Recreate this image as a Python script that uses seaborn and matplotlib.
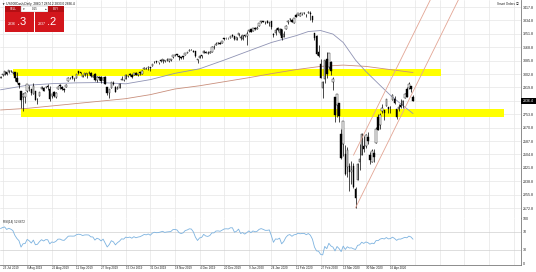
import numpy as np
import pandas as pd
import matplotlib
matplotlib.use("Agg")
import matplotlib.pyplot as plt
from matplotlib.patches import Rectangle
import seaborn as sns

# ---------------- data (US500Cash, daily) ----------------
holidays = ["2019-12-25", "2020-01-01", "2020-04-10"]
dates = pd.bdate_range("2019-07-22", "2020-05-01").drop(pd.to_datetime(holidays))

opens = [
    2981, 2994, 2999, 3016, 3013, 3024, 3007, 3016,
    2980, 2944, 2898, 2861, 2858, 2897, 2919, 2908, 2880, 2895, 2846, 2865, 2913, 2919, 2922, 2930, 2911, 2866, 2893, 2861, 2910, 2937,
    2920, 2910, 2924, 2960, 2980, 2988, 2971, 2981, 3019, 3013, 2984, 2996, 3002, 3010, 3008, 2984, 3002, 2968, 2985, 2985, 2967,
    2983, 2925, 2885, 2918, 2945, 2921, 2911, 2918, 2963, 2966, 2974, 2989, 3000, 2996, 2997, 3010, 2994, 3014, 3003, 3033, 3036, 3040, 3046,
    3051, 3079, 3081, 3075, 3088, 3082, 3081, 3090, 3084, 3090, 3108, 3118, 3128, 3115, 3109, 3112, 3118, 3134, 3145, 3154, 3148,
    3144, 3087, 3103, 3119, 3135, 3141, 3135, 3136, 3141, 3167, 3183, 3195, 3195, 3192, 3223, 3226, 3225, 3227, 3247, 3240, 3216,
    3245, 3226, 3218, 3242, 3238, 3267, 3281, 3271, 3286, 3283, 3302, 3323, 3330, 3321, 3330, 3316, 3333, 3248, 3255, 3289, 3256, 3283,
    3235, 3280, 3324, 3344, 3335, 3318, 3366, 3370, 3365, 3378, 3380, 3370, 3380, 3380, 3360, 3257, 3238, 3140, 3063, 2916,
    2974, 3096, 3045, 3075, 2954, 2863, 2813, 2826, 2630, 2569, 2509, 2425, 2436, 2393, 2431, 2290, 2344, 2457, 2501, 2556, 2558, 2614,
    2499, 2459, 2515, 2578, 2738, 2686, 2776, 2782, 2805, 2796, 2799, 2842, 2845, 2784, 2787, 2810, 2812, 2854, 2909, 2918, 2930,
    2860.7,
]
highs = [
    2990, 3005, 3019, 3017, 3028, 3026, 3018, 3018,
    3014, 2945, 2898, 2884, 2892, 2938, 2936, 2909, 2944, 2898, 2856, 2893, 2931, 2923, 2928, 2939, 2927, 2879, 2898, 2890, 2930, 2940,
    2928, 2914, 2938, 2985, 2985, 2989, 2979, 3001, 3021, 3017, 2999, 3006, 3008, 3022, 3016, 2999, 3007, 2990, 2988, 2988, 2983,
    2993, 2925, 2911, 2953, 2959, 2926, 2929, 2948, 2993, 2972, 3003, 2998, 3009, 3000, 3007, 3014, 3005, 3016, 3027, 3044, 3047, 3050, 3046,
    3066, 3085, 3084, 3079, 3098, 3094, 3088, 3102, 3098, 3098, 3121, 3124, 3128, 3118, 3110, 3113, 3133, 3142, 3155, 3156, 3150,
    3145, 3094, 3119, 3120, 3150, 3148, 3143, 3143, 3176, 3182, 3198, 3198, 3199, 3206, 3226, 3228, 3226, 3240, 3248, 3241, 3231,
    3258, 3247, 3247, 3245, 3268, 3275, 3282, 3289, 3295, 3298, 3317, 3330, 3332, 3330, 3337, 3326, 3334, 3259, 3286, 3294, 3286, 3283,
    3268, 3306, 3337, 3348, 3342, 3352, 3376, 3381, 3385, 3381, 3385, 3375, 3394, 3393, 3360, 3259, 3247, 3182, 3097, 2959,
    3091, 3137, 3130, 3083, 2985, 2863, 2882, 2826, 2660, 2711, 2562, 2553, 2453, 2466, 2453, 2300, 2450, 2572, 2637, 2616, 2631, 2641,
    2522, 2540, 2538, 2676, 2756, 2760, 2818, 2782, 2851, 2801, 2806, 2880, 2868, 2785, 2815, 2845, 2842, 2888, 2922, 2954, 2931,
    2874.2,
]
lows = [
    2976, 2988, 2996, 2996, 3012, 3015, 3000, 2958,
    2945, 2914, 2790, 2776, 2825, 2892, 2900, 2873, 2877, 2839, 2817, 2865, 2913, 2899, 2917, 2904, 2834, 2856, 2860, 2853, 2910, 2913,
    2905, 2891, 2922, 2960, 2972, 2969, 2957, 2981, 3004, 3002, 2984, 2993, 2979, 3004, 2984, 2983, 2957, 2953, 2964, 2946, 2967,
    2938, 2874, 2856, 2918, 2935, 2892, 2907, 2917, 2963, 2962, 2974, 2985, 2991, 2976, 2995, 2995, 2991, 2999, 3001, 3032, 3034, 3026, 3023,
    3050, 3074, 3072, 3065, 3078, 3074, 3077, 3085, 3078, 3083, 3105, 3113, 3114, 3091, 3094, 3097, 3118, 3131, 3143, 3150, 3139,
    3110, 3070, 3103, 3103, 3135, 3135, 3126, 3133, 3138, 3157, 3182, 3191, 3191, 3192, 3216, 3221, 3220, 3227, 3235, 3216, 3212,
    3236, 3214, 3214, 3233, 3181, 3264, 3260, 3267, 3277, 3280, 3302, 3318, 3322, 3310, 3321, 3302, 3281, 3234, 3243, 3271, 3242, 3214,
    3235, 3280, 3313, 3334, 3322, 3317, 3356, 3369, 3360, 3367, 3376, 3356, 3379, 3338, 3328, 3214, 3118, 3108, 2977, 2855,
    2946, 2977, 3035, 2999, 2901, 2707, 2734, 2707, 2478, 2492, 2380, 2367, 2280, 2319, 2295, 2174, 2344, 2407, 2500, 2520, 2545, 2572,
    2447, 2455, 2459, 2574, 2657, 2663, 2762, 2721, 2805, 2761, 2764, 2842, 2820, 2727, 2775, 2794, 2791, 2852, 2861, 2912, 2892,
    2833.0,
]
closes = [
    2985, 3005, 3019, 3004, 3026, 3021, 3013, 2980,
    2953, 2932, 2844, 2881, 2883, 2938, 2918, 2883, 2926, 2840, 2847, 2889, 2923, 2900, 2924, 2922, 2847, 2878, 2869, 2887, 2924, 2926,
    2910, 2906, 2937, 2976, 2979, 2978, 2979, 3001, 3010, 3007, 2998, 3006, 3007, 3006, 2992, 2991, 2966, 2984, 2977, 2961, 2977,
    2940, 2887, 2910, 2952, 2938, 2893, 2919, 2938, 2970, 2966, 2996, 2990, 2998, 2986, 3007, 2996, 3005, 3010, 3023, 3039, 3036, 3047, 3038,
    3066, 3078, 3075, 3077, 3085, 3093, 3087, 3092, 3095, 3097, 3120, 3122, 3120, 3108, 3104, 3110, 3133, 3140, 3154, 3153, 3141,
    3114, 3093, 3113, 3117, 3146, 3136, 3133, 3141, 3169, 3169, 3191, 3193, 3191, 3205, 3221, 3224, 3223, 3240, 3240, 3221, 3231,
    3258, 3235, 3246, 3237, 3253, 3275, 3265, 3288, 3283, 3289, 3317, 3330, 3326, 3321, 3321, 3326, 3295, 3244, 3276, 3273, 3284, 3226,
    3249, 3298, 3334, 3346, 3328, 3352, 3358, 3379, 3374, 3380, 3380, 3370, 3386, 3373, 3338, 3226, 3128, 3116, 2979, 2954,
    3090, 3003, 3130, 3024, 2972, 2747, 2882, 2741, 2481, 2711, 2386, 2529, 2398, 2409, 2305, 2237, 2447, 2476, 2630, 2541, 2627, 2585,
    2471, 2527, 2489, 2664, 2659, 2750, 2790, 2762, 2846, 2783, 2800, 2875, 2823, 2737, 2799, 2798, 2837, 2878, 2863, 2939, 2912,
    2836.4,
]
# closes before the visible range, used only to seed RSI(14)
warmup_closes = [2942, 2964, 2973, 2996, 2990, 2976, 2979, 2993, 3000, 3014, 3014, 3004, 2984, 2995, 2977]

# moving averages (bar index -> value)
ma50_bars = [0, 13, 25, 37, 49, 61, 73, 85, 97, 109, 121, 132, 144, 150, 156, 162, 167, 173, 178, 185, 190, 196, 201]
ma50_vals = [2905, 2933, 2943, 2948, 2950, 2942, 2968, 3007, 3035, 3089, 3146, 3198, 3240, 3266, 3272, 3250, 3198,
             3089, 3019, 2932, 2871, 2808, 2758]
ma200_bars = [0, 13, 25, 37, 49, 61, 73, 85, 97, 109, 121, 132, 144, 156, 167, 178, 190, 201]
ma200_vals = [2780, 2790, 2805, 2820, 2835, 2850, 2875, 2910, 2930, 2955, 2980, 3005, 3030, 3050, 3058, 3050, 3030, 3012]

tick_dates = ["2019-07-23", "2019-08-08", "2019-08-26", "2019-09-11", "2019-09-27", "2019-10-15", "2019-10-31",
              "2019-11-18", "2019-12-04", "2019-12-20", "2020-01-09", "2020-01-24", "2020-02-11", "2020-02-27",
              "2020-03-13", "2020-03-30", "2020-04-16"]
price_ticks = [3417.8, 3334.8, 3251.8, 3168.8, 3085.8, 3002.8, 2919.8, 2836.8,
               2753.8, 2670.8, 2587.8, 2504.8, 2421.8, 2338.8, 2255.8, 2172.8]
price_tick_labels = ["3417.8", "3334.8", "3251.8", "3168.8", "3085.8", "3002.8", "2919.8", "",
                     "2753.8", "2670.8", "2587.8", "2504.8", "2421.8", "2338.8", "2255.8", "2172.8"]
rsi_ticks = [100, 70, 30, 0]
upper_zone = (2990, 3034)
lower_zone = (2736, 2786)
last_price = 2836.4
bid, ask = "2836.3", "2837.2"

# ---------------- derived series ----------------
o = np.array(opens, float); h = np.array(highs, float)
l = np.array(lows, float); c = np.array(closes, float)
n = len(c)
x = np.arange(n)
all_close = pd.Series(warmup_closes + closes, dtype=float)
delta = all_close.diff().dropna()
gain = delta.clip(lower=0)
loss = (-delta).clip(lower=0)
ag = gain.ewm(alpha=1 / 14, adjust=False).mean()
al = loss.ewm(alpha=1 / 14, adjust=False).mean()
rsi = (100 - 100 / (1 + ag / al)).to_numpy()[-n:]

pos_of = {d.strftime("%Y-%m-%d"): i for i, d in enumerate(dates)}
tick_pos = [pos_of[d] for d in tick_dates]
tick_labels = [f"{pd.Timestamp(d).day} {pd.Timestamp(d):%b %Y}" for d in tick_dates]
grid_x = tick_pos + [202, 214, 226, 238, 250]

# ---------------- figure ----------------
sns.set_theme(style="white")
FAM = ['Liberation Sans', 'DejaVu Sans', 'Noto Sans CJK SC']
plt.rcParams['font.family'] = FAM
W, H = 536, 272
fig = plt.figure(figsize=(W / 100, H / 100), dpi=100)
fig.patch.set_facecolor("white")

def fx(px):
    return px / W

def fy(py):
    return 1 - py / H

ax = fig.add_axes([0, fy(218), fx(521), 218 / H])
ax2 = fig.add_axes([0, fy(265), fx(521), 47 / H])

pitch = 412.5 / (n - 1)
xlim = (-0.5 / pitch, 520.5 / pitch)
for a in (ax, ax2):
    a.set_facecolor("white")
    a.set_xlim(*xlim)
    for s in ("left", "top"):
        a.spines[s].set_visible(False)
    for s in ("right", "bottom"):
        a.spines[s].set_color("#7a7a7a")
        a.spines[s].set_linewidth(0.6)
    for gx in grid_x:
        a.axvline(gx, color="#e6e6e6", lw=0.5, zorder=0)

ax.set_ylim(2110.9, 3461.2)
for yv in price_ticks:
    ax.axhline(yv, color="#e6e6e6", lw=0.5, zorder=0)

# support / resistance zones
ax.add_patch(Rectangle((6.1, upper_zone[0]), 214.7 - 6.1, upper_zone[1] - upper_zone[0],
                       facecolor="#ffff00", edgecolor="none", zorder=1))
ax.add_patch(Rectangle((10.0, lower_zone[0]), 245.4 - 10.0, lower_zone[1] - lower_zone[0],
                       facecolor="#ffff00", edgecolor="none", zorder=1))

# moving averages
sns.lineplot(x=ma200_bars, y=ma200_vals, ax=ax, color="#c98f7c", linewidth=0.6, zorder=2)
sns.lineplot(x=ma50_bars, y=ma50_vals, ax=ax, color="#8f93b4", linewidth=0.6, zorder=2)

# candles
up = c >= o
ax.vlines(x, l, h, color="black", lw=0.5, zorder=3)
ax.bar(x[up], (c - o)[up], bottom=o[up], width=0.72, color="white", edgecolor="black", linewidth=0.3, zorder=4)
ax.bar(x[~up], (o - c)[~up], bottom=c[~up], width=0.72, color="black", edgecolor="black", linewidth=0.3, zorder=4)

# trend channel
i_low = pos_of["2020-03-23"]
ax.plot([i_low, 236], [l[i_low], l[i_low] + (236 - i_low) * 25.7], color="#e3a594", lw=0.6, zorder=5)
ax.plot([172, 222], [2500, 2500 + 50 * 25.7], color="#e3a594", lw=0.6, zorder=5)

ax.yaxis.tick_right()
ax.set_yticks(price_ticks)
ax.set_yticklabels(price_tick_labels)
ax.tick_params(axis="y", length=0, pad=1.4, labelsize=2.6, labelcolor="#222222")
ax.tick_params(axis="x", bottom=False, labelbottom=False)
ax.set_xlabel(""); ax.set_ylabel("")

# RSI
ax2.set_ylim(-4.44, 100)
for lv in (70, 30):
    ax2.axhline(lv, color="#d0d0d0", lw=0.5, zorder=0)
sns.lineplot(x=x, y=rsi, ax=ax2, color="#7db3e0", linewidth=0.6, zorder=3)
ax2.yaxis.tick_right()
ax2.set_yticks(rsi_ticks)
ax2.set_yticklabels([str(t) for t in rsi_ticks])
ax2.tick_params(axis="y", length=0, pad=1.4, labelsize=2.6, labelcolor="#222222")
ax2.set_xticks(tick_pos)
ax2.set_xticklabels(tick_labels, ha="left")
ax2.tick_params(axis="x", length=0, pad=0.9, labelsize=2.2, labelcolor="#222222")
ax2.set_xlabel(""); ax2.set_ylabel("")

# texts
fig.text(fx(2), fy(4), "\u25bc US500Cash,Daily  2860.7 2874.2 2833.0 2836.4", fontsize=2.3,
         ha="left", va="center", color="#111111", family=FAM)
fig.text(fx(519), fy(4), "Smart Orders \u24d8", fontsize=2.2, ha="right", va="center", color="#222222",
         family=['Liberation Sans', 'Noto Sans CJK SC', 'DejaVu Sans'])
fig.text(fx(3), fy(222.5), "RSI(14) 52.6672", fontsize=2.2, ha="left", va="center", color="#222222")

# current price marker
fig.add_artist(Rectangle((fx(521), fy(104)), 15 / W, 6 / H, transform=fig.transFigure,
                         facecolor="black", edgecolor="none", zorder=10))
fig.text(fx(528.5), fy(101), f"{last_price:.1f}", fontsize=2.5, color="white", ha="center", va="center", zorder=11)

# one-click trading panel
red, dred = "#d3161c", "#b40f14"
def box(x0, y0, x1, y1, col, ec="none"):
    fig.add_artist(Rectangle((fx(x0), fy(y1)), (x1 - x0) / W, (y1 - y0) / H, transform=fig.transFigure,
                             facecolor=col, edgecolor=ec, linewidth=0.3, zorder=10))
box(5, 6, 21, 12, dred)
box(21, 6, 48, 12, "white", "#999999")
box(48, 6, 64, 12, dred)
box(5, 12, 34, 31.5, red)
box(35, 12, 64, 31.5, red)
fig.text(fx(13), fy(9), "SELL", fontsize=2.1, color="white", ha="center", va="center", zorder=11)
fig.text(fx(56), fy(9), "BUY", fontsize=2.1, color="white", ha="center", va="center", zorder=11)
fig.text(fx(23.5), fy(9), "\u25be", fontsize=2.4, color="#333333", ha="center", va="center", zorder=11, family=FAM)
fig.text(fx(34.5), fy(9), "0.15", fontsize=2.2, color="#222222", ha="center", va="center", zorder=11)
fig.text(fx(45.5), fy(9), "\u25b4", fontsize=2.4, color="#333333", ha="center", va="center", zorder=11, family=FAM)
fig.text(fx(7.5), fy(24), bid[:4], fontsize=2.6, color="white", ha="left", va="center", zorder=11)
fig.text(fx(17.5), fy(22), bid[4:], fontsize=8, color="white", ha="left", va="center", zorder=11)
fig.text(fx(37.5), fy(24), ask[:4], fontsize=2.6, color="white", ha="left", va="center", zorder=11)
fig.text(fx(47.5), fy(22), ask[4:], fontsize=8, color="white", ha="left", va="center", zorder=11)

fig.savefig("out.png", dpi=100, facecolor="white")
